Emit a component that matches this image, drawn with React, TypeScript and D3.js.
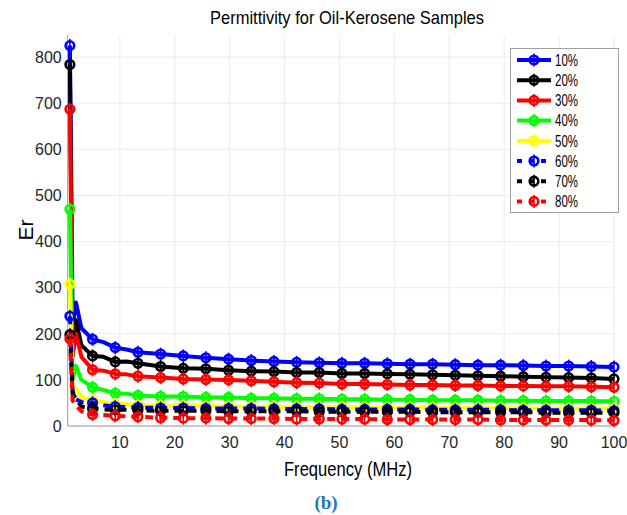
import React from 'react';
import * as d3 from 'd3';

const freqs = [0.9, 1.4, 2.0, 3.0, 5.03, 7.0, 9.16, 11.2, 13.29, 17.42, 21.55, 25.67, 29.8, 33.93, 38.06, 42.19, 46.32, 50.45, 54.58, 58.71, 62.84, 66.96, 71.09, 75.22, 79.35, 83.48, 87.61, 91.74, 95.87, 100];
const unmarkedFreqs = [1.4, 2.0, 3.0, 7.0, 11.2];

const s10 = [825, 215, 268, 212, 188, 182, 170, 166, 160, 156, 152, 148, 145, 142, 140, 138, 137, 136, 136, 135, 134, 134, 133, 132, 132, 131, 130, 130, 129, 128];
const s20 = [784, 175, 230, 175, 152, 150, 139, 140, 136, 129, 125, 124, 121, 119, 118, 116, 116, 114, 114, 113, 112, 111, 110, 109, 108, 107, 106, 105, 104, 102];
const s30 = [687, 150, 200, 150, 122, 120, 113, 112, 108, 105, 102, 101, 100, 98, 96, 94, 93, 91, 91, 90, 89, 89, 88, 88, 87, 87, 86, 86, 85, 84];
const s40 = [470, 100, 130, 100, 84, 78, 71, 70, 66, 64, 64, 62, 62, 60, 60, 59, 59, 58, 58, 57, 57, 56, 56, 56, 55, 55, 54, 54, 54, 53];
const s50 = [308, 70, 82, 62, 56, 52, 48, 47, 45, 44, 44, 43, 43, 42, 42, 41, 41, 41, 40, 40, 40, 40, 39, 39, 39, 39, 38, 38, 38, 38];
const s60 = [238, 75, 58, 52, 50, 45, 42, 41, 40, 39, 39, 38, 38, 38, 37, 37, 37, 36, 36, 36, 36, 35, 35, 35, 35, 34, 34, 34, 34, 33];
const s70 = [198, 70, 60, 42, 38, 36, 35, 35, 34, 33, 33, 33, 32, 32, 32, 32, 31, 31, 31, 31, 31, 30, 30, 30, 30, 30, 29, 29, 29, 29];
const s80 = [189, 55, 45, 32, 25, 24, 22, 21, 20, 18, 17, 17, 16, 16, 16, 15, 15, 15, 15, 14, 14, 14, 14, 14, 13, 13, 13, 13, 13, 12];

const seriesNames = ['10%', '20%', '30%', '40%', '50%', '60%', '70%', '80%'];
const seriesValues = [s10, s20, s30, s40, s50, s60, s70, s80];
const seriesColors = ['#0000ff', '#000000', '#ff0000', '#00ff00', '#ffff00', '#0000ff', '#000000', '#ff0000'];
const seriesDashed = [false, false, false, false, false, true, true, true];

const xTicks = [10, 20, 30, 40, 50, 60, 70, 80, 90, 100];
const yTicks = [0, 100, 200, 300, 400, 500, 600, 700, 800];

const W = 627, H = 515;
const L = 67.7, R = 614, T = 35, B = 426;
const FONT = '"Liberation Sans", Arial, Helvetica, sans-serif';

export default function App() {
  const x = d3.scaleLinear().domain([0.5, 100]).range([L, R]);
  const y = d3.scaleLinear().domain([0, 848]).range([B, T]);
  const line = d3.line<[number, number]>().x(d => x(d[0])).y(d => y(d[1]));

  const Marker = ({ cx, cy, color }: { cx: number; cy: number; color: string }) => (
    <g>
      <circle cx={cx} cy={cy} r={4.3} fill="none" stroke={color} strokeWidth={2.6} />
      <line x1={cx} x2={cx} y1={cy - 6.5} y2={cy + 6.5} stroke={color} strokeWidth={1.6} />
    </g>
  );

  return (
    <svg width={W} height={H} style={{ position: 'absolute', left: 0, top: 0, background: '#fff' }}>
      <rect x={0} y={0} width={W} height={H} fill="#fff" />
      {xTicks.map(t => (
        <line key={'gx' + t} x1={x(t)} x2={x(t)} y1={T} y2={B} stroke="#ebebeb" strokeWidth={1} />
      ))}
      {yTicks.map(t => (
        <line key={'gy' + t} x1={L} x2={R} y1={y(t)} y2={y(t)} stroke="#ebebeb" strokeWidth={1} />
      ))}
      <line x1={L} x2={L} y1={T} y2={B} stroke="#9a9a9a" strokeWidth={1} />
      <line x1={L} x2={R} y1={B} y2={B} stroke="#9a9a9a" strokeWidth={1} />
      {yTicks.map(t => (
        <text key={'yl' + t} x={L - 6} y={y(t)} dy="0.36em" textAnchor="end" fontFamily={FONT} fontSize={16} fill="#262626">{t}</text>
      ))}
      {xTicks.map(t => (
        <text key={'xl' + t} x={x(t)} y={B + 16} dy="0.36em" textAnchor="middle" fontFamily={FONT} fontSize={16} fill="#262626">{t}</text>
      ))}
      {seriesValues.map((vals, i) => {
        const pts: [number, number][] = freqs.map((f, j) => [f, vals[j]]);
        return (
          <g key={'s' + i}>
            <path d={line(pts) || ''} fill="none" stroke={seriesColors[i]} strokeWidth={4}
              strokeDasharray={seriesDashed[i] ? '8,6' : undefined} strokeLinejoin="round" />
            {pts.filter(p => !unmarkedFreqs.includes(p[0])).map((p, j) => (
              <Marker key={j} cx={x(p[0])} cy={y(p[1])} color={seriesColors[i]} />
            ))}
          </g>
        );
      })}
      <rect x={510.5} y={48.5} width={108} height={164} fill="#fff" stroke="#a0a0a0" strokeWidth={1} />
      {seriesNames.map((n, i) => {
        const ly = 60 + i * 20.2;
        return (
          <g key={'lg' + i}>
            <line x1={517} x2={551} y1={ly} y2={ly} stroke={seriesColors[i]} strokeWidth={4}
              strokeDasharray={seriesDashed[i] ? '5,7' : undefined} />
            <Marker cx={534} cy={ly} color={seriesColors[i]} />
            <text x={555} y={ly} dy="0.36em" fontFamily={FONT} fontSize={16} fill="#000" textLength={23} lengthAdjust="spacingAndGlyphs">{n}</text>
          </g>
        );
      })}
      <text x={347} y={24} textAnchor="middle" fontFamily={FONT} fontSize={19} fill="#000" textLength={274} lengthAdjust="spacingAndGlyphs">Permittivity for Oil-Kerosene Samples</text>
      <text x={348} y={476} textAnchor="middle" fontFamily={FONT} fontSize={21} fill="#000" textLength={128} lengthAdjust="spacingAndGlyphs">Frequency (MHz)</text>
      <text transform={`translate(33, 230) rotate(-90)`} textAnchor="middle" fontFamily={FONT} fontSize={21} fill="#000">Er</text>
      <text x={326} y={509} textAnchor="middle" fontFamily='"Liberation Serif", "Times New Roman", serif' fontWeight="bold" fontSize={19} fill="#1f78b4">(b)</text>
    </svg>
  );
}
